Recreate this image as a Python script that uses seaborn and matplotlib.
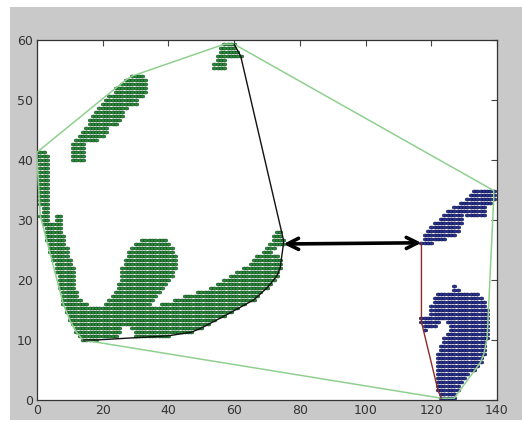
import numpy as np
import pandas as pd
import seaborn as sns
import matplotlib
matplotlib.use("Agg")
import matplotlib.pyplot as plt
from matplotlib.patches import Rectangle

# rows of dots: (y, x from, x to), dots sit on whole x values
green_top = [
    (59.3, 57, 60), (58.7, 56, 60), (58.0, 56, 61), (57.3, 55, 62),
    (56.7, 55, 57), (56.0, 54, 57), (55.3, 54, 57),
]
green_arm = [
    (54.0, 29, 32), (53.3, 27, 33), (52.7, 26, 33), (52.0, 24, 33),
    (51.3, 24, 33), (50.7, 22, 32), (50.0, 21, 30), (49.3, 20, 30),
    (48.7, 19, 27), (48.0, 18, 26), (47.3, 17, 26), (46.7, 16, 25),
    (46.0, 16, 24), (45.3, 15, 21), (44.7, 14, 21), (44.0, 13, 20),
    (43.3, 12, 18), (42.7, 11, 14), (42.0, 11, 14), (41.3, 11, 14),
    (40.7, 11, 14), (40.0, 11, 14),
]
green_body = [
    (41.3, 0, 2), (40.7, 0, 3), (40.0, 0, 3), (39.3, 1, 3), (38.7, 1, 3),
    (38.0, 1, 3), (37.3, 1, 3), (36.7, 1, 3), (36.0, 1, 3), (35.3, 1, 3),
    (34.7, 1, 3), (34.0, 1, 3), (33.3, 1, 3), (32.7, 1, 3), (32.0, 2, 3),
    (31.3, 2, 3), (30.7, 1, 3), (30.7, 6, 7), (30.0, 2, 3), (30.0, 6, 7),
    (29.3, 2, 7), (28.7, 3, 7),
    (28.0, 3, 7), (28.0, 73, 74),
    (27.3, 3, 8), (27.3, 72, 74),
    (26.7, 3, 8), (26.7, 32, 39), (26.7, 72, 75),
    (26.0, 4, 8), (26.0, 30, 40), (26.0, 71, 75),
    (25.3, 4, 9), (25.3, 29, 41), (25.3, 70, 72),
    (24.7, 4, 9), (24.7, 28, 41), (24.7, 69, 71),
    (24.0, 5, 9), (24.0, 28, 42), (24.0, 67, 73),
    (23.3, 5, 10), (23.3, 27, 42), (23.3, 66, 74),
    (22.7, 6, 10), (22.7, 27, 42), (22.7, 65, 74),
    (22.0, 6, 11), (22.0, 26, 42), (22.0, 63, 74),
    (21.3, 6, 11), (21.3, 26, 41), (21.3, 61, 73),
    (20.7, 7, 11), (20.7, 26, 41), (20.7, 59, 73),
    (20.0, 7, 11), (20.0, 26, 40), (20.0, 57, 72),
    (19.3, 7, 11), (19.3, 25, 39), (19.3, 55, 71),
    (18.7, 7, 11), (18.7, 25, 38), (18.7, 53, 70),
    (18.0, 8, 12), (18.0, 24, 37), (18.0, 49, 68),
    (17.3, 8, 12), (17.3, 23, 36), (17.3, 45, 67),
    (16.7, 8, 13), (16.7, 22, 35), (16.7, 42, 66),
    (16.0, 8, 15), (16.0, 21, 34), (16.0, 38, 63),
    (15.3, 9, 61), (14.7, 9, 59), (14.0, 10, 57), (13.3, 10, 54),
    (12.7, 11, 52), (12.0, 12, 25), (12.0, 29, 50),
    (11.3, 12, 25), (11.3, 30, 47), (10.7, 13, 24), (10.7, 30, 40),
    (10.0, 14, 18),
]
blue_top = [
    (34.9, 133, 139), (34.2, 132, 139), (33.5, 131, 139), (32.8, 129, 138),
    (32.2, 127, 136), (31.5, 125, 130), (31.5, 131, 136), (30.8, 124, 129),
    (30.8, 131, 136), (30.2, 123, 129), (29.5, 121, 129), (28.8, 120, 128),
    (28.2, 119, 128), (27.5, 118, 127), (26.9, 118, 124), (26.2, 117, 120),
]
blue_low = [
    (19.0, 127, 127), (18.3, 127, 128), (17.7, 122, 134), (17.0, 121, 135),
    (16.3, 121, 136), (15.7, 120, 136), (15.0, 120, 137), (14.3, 120, 137),
    (13.7, 117, 137), (13.0, 117, 122), (13.0, 125, 137), (12.3, 118, 121),
    (12.3, 126, 137), (11.7, 118, 118), (11.7, 126, 137), (11.0, 125, 137),
    (10.3, 124, 137), (9.7, 124, 136), (9.0, 123, 136), (8.3, 123, 136),
    (7.7, 122, 136), (7.0, 122, 135), (6.3, 122, 135), (5.7, 122, 134),
    (5.0, 122, 133), (4.3, 122, 131), (3.7, 122, 130), (3.0, 122, 129),
    (2.3, 122, 128), (1.7, 122, 128), (1.0, 123, 127), (0.3, 123, 127),
]

x_ticks = [0, 20, 40, 60, 80, 100, 120, 140]
y_ticks = [0, 10, 20, 30, 40, 50, 60]


def expand(rows, name):
    out = []
    for y, a, b in rows:
        for x in range(a, b + 1):
            out.append((x, y, name))
    return out


def hull(points):
    pts = sorted(set(points))

    def cross(o, a, b):
        return (a[0] - o[0]) * (b[1] - o[1]) - (a[1] - o[1]) * (b[0] - o[0])

    lower, upper = [], []
    for p in pts:
        while len(lower) >= 2 and cross(lower[-2], lower[-1], p) <= 0:
            lower.pop()
        lower.append(p)
    for p in reversed(pts):
        while len(upper) >= 2 and cross(upper[-2], upper[-1], p) <= 0:
            upper.pop()
        upper.append(p)
    return lower[:-1] + upper[:-1]  # counter clockwise


def walk(h, i, j, step):
    path = [h[i]]
    while i != j:
        i = (i + step) % len(h)
        path.append(h[i])
    return np.array(path)


df = pd.DataFrame(
    expand(green_top + green_arm + green_body, "green") + expand(blue_top + blue_low, "blue"),
    columns=["x", "y", "cluster"],
)
g = df[df.cluster == "green"]
b = df[df.cluster == "blue"]
gp = list(zip(g.x, g.y))
bp = list(zip(b.x, b.y))

# closest pair of dots between the two groups
ga, ba = np.array(gp, float), np.array(bp, float)
d = ((ga[:, None, :] - ba[None, :, :]) ** 2).sum(-1)
gi, bi = np.unravel_index(d.argmin(), d.shape)
g_near, b_near = tuple(ga[gi]), tuple(ba[bi])

h_all = hull(gp + bp)
h_g = hull(gp)
h_b = hull(bp)

# green hull from top point clockwise down to bottom-left point
i_top = max(range(len(h_g)), key=lambda k: (h_g[k][1], h_g[k][0]))
i_bot = min(range(len(h_g)), key=lambda k: (h_g[k][1], h_g[k][0]))
black = walk(h_g, i_top, i_bot, -1)
# blue hull from the near point counter clockwise down to the bottom
j_start = min(range(len(h_b)), key=lambda k: (h_b[k][0] - b_near[0]) ** 2 + (h_b[k][1] - b_near[1]) ** 2)
j_bot = min(range(len(h_b)), key=lambda k: (h_b[k][1], h_b[k][0]))
red = walk(h_b, j_start, j_bot, 1)

# flat oval dot, like the jpeg-smeared matlab points
t = np.linspace(0, 2 * np.pi, 25)
oval = np.column_stack([np.cos(t), 0.65 * np.sin(t)])

sns.set_style("white")
plt.rcParams["font.family"] = ["DejaVu Sans"]

fig = plt.figure(figsize=(5.22, 4.30), dpi=100)
fig.patch.set_facecolor("white")
fig.patches.append(Rectangle((0.019, 0.023), 0.981, 0.96, transform=fig.transFigure,
                             facecolor="#c9c9c9", edgecolor="none", zorder=-5))
ax = fig.add_axes([0.0709, 0.0698, 0.8812, 0.8372])
ax.set_facecolor("white")

sns.scatterplot(data=g, x="x", y="y", color="#2a8a3a", edgecolor="#0d4a1a",
                linewidth=0.4, s=11, marker=oval, legend=False, ax=ax, zorder=2)
sns.scatterplot(data=b, x="x", y="y", color="#283290", edgecolor="#0a0e4a",
                linewidth=0.4, s=11, marker=oval, legend=False, ax=ax, zorder=2)

hx = [p[0] for p in h_all] + [h_all[0][0]]
hy = [p[1] for p in h_all] + [h_all[0][1]]
ax.plot(hx, hy, color="#8fd08f", lw=1.1, zorder=3)
ax.plot(black[:, 0], black[:, 1], color="#111111", lw=1.0, zorder=4)
ax.plot(red[:, 0], red[:, 1], color="#8b2a2a", lw=1.0, zorder=4)

ax.annotate("", xy=b_near, xytext=g_near,
            arrowprops=dict(arrowstyle="<->", lw=2.6, color="black",
                            mutation_scale=20, shrinkA=0, shrinkB=0), zorder=5)

ax.set_xlim(0, 140)
ax.set_ylim(0, 60)
ax.set_xticks(x_ticks)
ax.set_yticks(y_ticks)
ax.set_xlabel("")
ax.set_ylabel("")
ax.tick_params(direction="in", length=4, width=0.8, top=True, right=True,
               labelsize=9, labelcolor="#333333", color="#444444", pad=3)
for s in ax.spines.values():
    s.set_color("#333333")
    s.set_linewidth(0.9)

fig.savefig("out.png", dpi=100, facecolor=fig.get_facecolor())
